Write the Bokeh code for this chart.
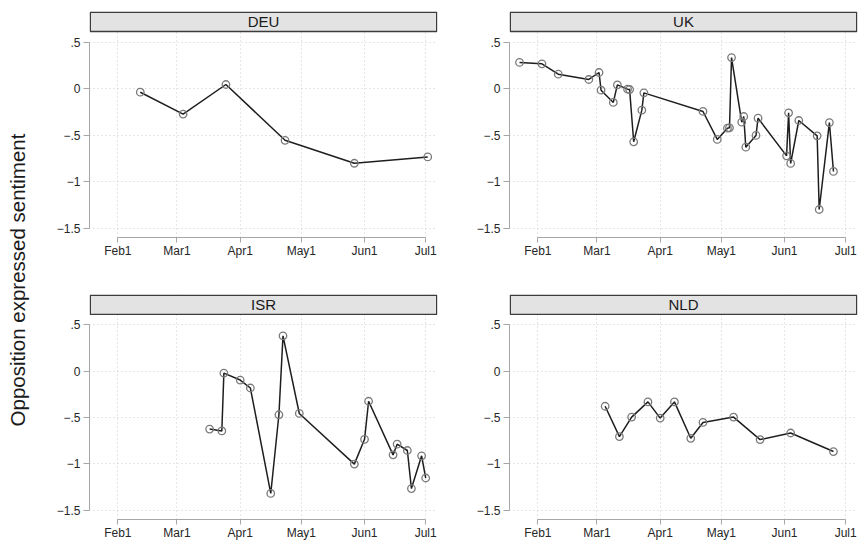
import numpy as np
from bokeh.plotting import figure
from bokeh.models import FixedTicker, Label, BoxAnnotation, Range1d
from bokeh.layouts import row, column
from bokeh.embed import file_html
from bokeh.resources import INLINE

# ---------------- data ----------------
panel_names = ["DEU", "UK", "ISR", "NLD"]

deu_dates = ["2020-02-12", "2020-03-04", "2020-03-25", "2020-04-23", "2020-05-27", "2020-07-02"]
deu_values = [-0.04, -0.275, 0.043, -0.557, -0.804, -0.736]

uk_dates = ["2020-01-23", "2020-02-03", "2020-02-11", "2020-02-26", "2020-03-02", "2020-03-03",
            "2020-03-09", "2020-03-11", "2020-03-16", "2020-03-17", "2020-03-19", "2020-03-23",
            "2020-03-24", "2020-04-22", "2020-04-29", "2020-05-04", "2020-05-05", "2020-05-06",
            "2020-05-11", "2020-05-12", "2020-05-13", "2020-05-18", "2020-05-19", "2020-06-02",
            "2020-06-03", "2020-06-04", "2020-06-08", "2020-06-17", "2020-06-18", "2020-06-23",
            "2020-06-25"]
uk_values = [0.28, 0.265, 0.154, 0.097, 0.172, -0.018,
             -0.15, 0.039, -0.007, -0.011, -0.573, -0.233,
             -0.047, -0.247, -0.548, -0.427, -0.423, 0.333,
             -0.362, -0.301, -0.631, -0.505, -0.319, -0.724,
             -0.262, -0.806, -0.344, -0.509, -1.301, -0.366,
             -0.892]

isr_dates = ["2020-03-17", "2020-03-23", "2020-03-24", "2020-04-01", "2020-04-06", "2020-04-16",
             "2020-04-20", "2020-04-22", "2020-04-30", "2020-05-27", "2020-06-01", "2020-06-03",
             "2020-06-15", "2020-06-17", "2020-06-22", "2020-06-24", "2020-06-29", "2020-07-01"]
isr_values = [-0.625, -0.646, -0.021, -0.096, -0.182, -1.321,
              -0.471, 0.382, -0.457, -1.004, -0.736, -0.325,
              -0.904, -0.789, -0.857, -1.268, -0.914, -1.154]

nld_dates = ["2020-03-05", "2020-03-12", "2020-03-18", "2020-03-26", "2020-04-01", "2020-04-08",
             "2020-04-16", "2020-04-22", "2020-05-07", "2020-05-20", "2020-06-04", "2020-06-25"]
nld_values = [-0.379, -0.707, -0.496, -0.332, -0.507, -0.332,
              -0.725, -0.554, -0.496, -0.739, -0.668, -0.868]

x_tick_dates = ["2020-02-01", "2020-03-01", "2020-04-01", "2020-05-01", "2020-06-01", "2020-07-01"]
x_tick_labels = ["Feb1", "Mar1", "Apr1", "May1", "Jun1", "Jul1"]
y_ticks = [-1.5, -1.0, -0.5, 0.0, 0.5]
y_tick_labels = ["\u22121.5", "\u22121", "\u2212.5", "0", ".5"]

y_title = "Opposition expressed sentiment"

series = {
    "DEU": (deu_dates, deu_values),
    "UK": (uk_dates, uk_values),
    "ISR": (isr_dates, isr_values),
    "NLD": (nld_dates, nld_values),
}

# ---------------- style / geometry ----------------
FONT = "Liberation Sans"
FRAME_W = 348
FRAME_H = 226
HEADER_PX = 20
GAP_PX = 10.5
BOTTOM_PX = 9.5
DATA_PX = FRAME_H - HEADER_PX - GAP_PX - BOTTOM_PX
px_per_unit = DATA_PX / (max(y_ticks) - min(y_ticks))
y_start = min(y_ticks) - BOTTOM_PX / px_per_unit
y_end = max(y_ticks) + (HEADER_PX + GAP_PX) / px_per_unit
header_bottom = max(y_ticks) + GAP_PX / px_per_unit


def to_ms(s):
    return float(np.datetime64(s, "ms").astype("int64"))


x_start = to_ms("2020-01-18T02:00")
x_end = to_ms("2020-07-06T19:00")
x_ticks_ms = [to_ms(d) for d in x_tick_dates]
ms_per_px = (x_end - x_start) / FRAME_W

GRID_COLOR = "#cdcdcd"
AXIS_COLOR = "#a6a6a6"
TEXT_COLOR = "#262626"


def make_panel(name, left, right, top, bottom):
    dates, vals = series[name]
    p = figure(width=left + FRAME_W + right, height=top + FRAME_H + bottom,
               x_axis_type="datetime",
               x_range=Range1d(x_start, x_end), y_range=Range1d(y_start, y_end),
               output_backend="svg", toolbar_location=None,
               min_border_left=left, min_border_right=right,
               min_border_top=top, min_border_bottom=bottom)
    p.outline_line_color = None
    p.background_fill_color = "white"
    p.border_fill_color = "white"

    xa = p.xaxis[0]
    xa.ticker = FixedTicker(ticks=x_ticks_ms)
    xa.major_label_overrides = {t: lab for t, lab in zip(x_ticks_ms, x_tick_labels)}
    xa.bounds = (x_ticks_ms[0], x_ticks_ms[-1])
    ya = p.yaxis[0]
    ya.ticker = FixedTicker(ticks=y_ticks)
    ya.major_label_overrides = {t: lab for t, lab in zip(y_ticks, y_tick_labels)}
    ya.bounds = (min(y_ticks), max(y_ticks))
    ya.major_label_orientation = "horizontal"
    for ax, tout, sto in ((xa, 5, 1), (ya, 6, 3)):
        ax.axis_line_color = AXIS_COLOR
        ax.axis_line_width = 1
        ax.major_tick_line_color = AXIS_COLOR
        ax.major_tick_in = 0
        ax.major_tick_out = tout
        ax.minor_tick_line_color = None
        ax.major_label_text_font = FONT
        ax.major_label_text_font_size = "12px"
        ax.major_label_text_color = TEXT_COLOR
        ax.major_label_standoff = sto

    for g in (p.xgrid[0], p.ygrid[0]):
        g.grid_line_color = GRID_COLOR
        g.grid_line_dash = "1 3"
        g.grid_line_width = 1

    x = np.array(dates, dtype="datetime64[ms]")
    p.line(x, vals, line_color="#1e1e1e", line_width=1.5)
    p.scatter(x, vals, marker="circle", size=7.5, fill_color=None,
              line_color="#7a7a7a", line_width=1.3)

    # strip header (inset by ~1px so its border is not clipped by the frame)
    inset_y = 0.8 / px_per_unit
    inset_x = 0.8 * ms_per_px
    p.add_layout(BoxAnnotation(bottom=header_bottom, top=y_end - inset_y,
                               left=x_start + inset_x, right=x_end - inset_x,
                               fill_color="#e3e3e3", fill_alpha=1.0,
                               line_color="#3c3c3c", line_width=1.4, line_alpha=1.0))
    p.add_layout(Label(x=(x_start + x_end) / 2, y=(header_bottom + y_end) / 2,
                       text=name, text_align="center", text_baseline="middle",
                       text_font=FONT, text_font_size="15px", text_font_style="normal",
                       text_color="#1a1a1a"))
    return p


LEFT_W = 30
TOP_T, TOP_B = 11, 29
BOT_T, BOT_B = 28, 22
p1 = make_panel("DEU", 59, 13, TOP_T, TOP_B)
p2 = make_panel("UK", 59, 1, TOP_T, TOP_B)
p3 = make_panel("ISR", 59, 13, BOT_T, BOT_B)
p4 = make_panel("NLD", 59, 1, BOT_T, BOT_B)

total_h = (TOP_T + FRAME_H + TOP_B) + (BOT_T + FRAME_H + BOT_B)
lab = figure(width=LEFT_W, height=total_h, x_range=(0, LEFT_W), y_range=(0, total_h),
             output_backend="svg", toolbar_location=None,
             min_border=0, min_border_left=0, min_border_right=0,
             min_border_top=0, min_border_bottom=0)
lab.axis.visible = False
lab.grid.visible = False
lab.outline_line_color = None
lab.add_layout(Label(x=16.5, y=total_h - 279.5, text=y_title, angle=np.pi / 2,
                     text_align="center", text_baseline="middle",
                     text_font=FONT, text_font_size="20.5px", text_font_style="normal",
                     text_color="#1a1a1a"))

layout = row(lab, column(row(p1, p2), row(p3, p4)))

open("out.html", "w").write(file_html(layout, INLINE))
